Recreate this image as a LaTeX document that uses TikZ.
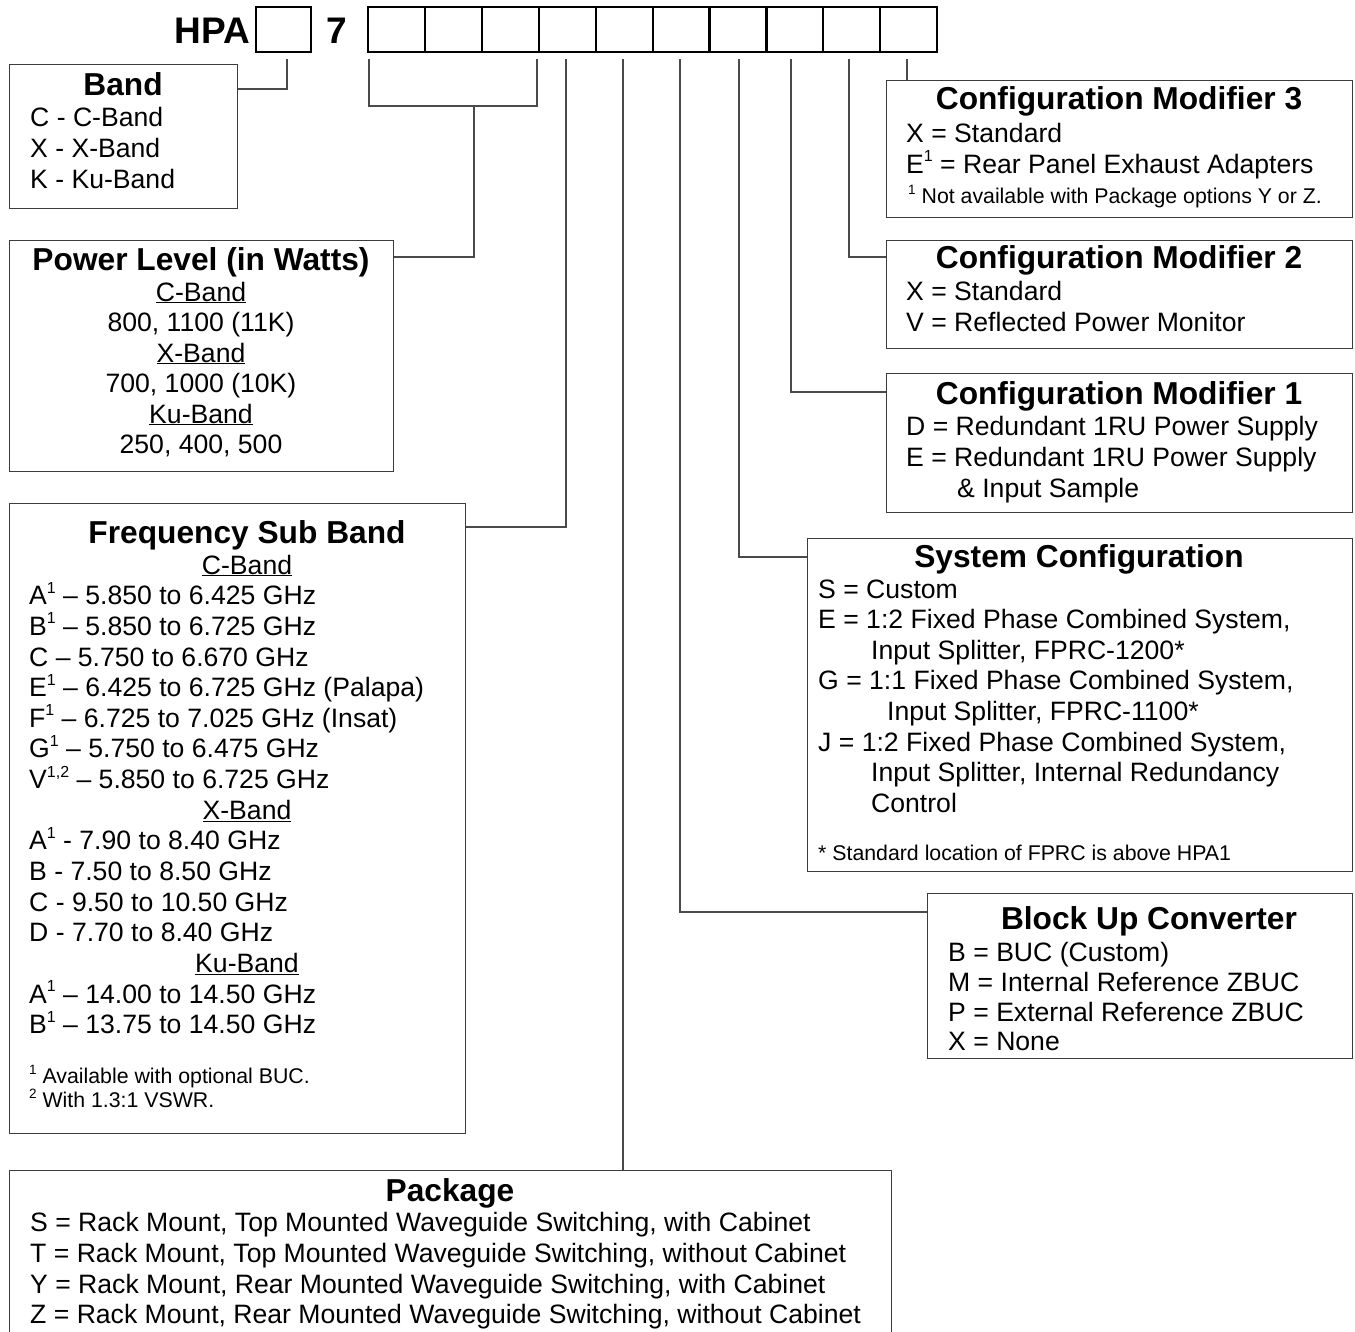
\documentclass[tikz,border=0pt]{standalone}
\usepackage{fontspec}
\setmainfont{Liberation Sans}
\usetikzlibrary{calc}
\newcommand\sps[1]{\raisebox{11.5pt}{\fontsize{16}{16}\selectfont #1}}
\newcommand\fns[1]{\raisebox{9pt}{\fontsize{13.5}{13.5}\selectfont #1}}
\definecolor{boxline}{HTML}{3C3C3C}
\definecolor{connline}{HTML}{4A4A4A}
\tikzset{
  box/.style={draw=boxline, line width=1.4pt, rectangle, inner sep=0pt, anchor=north west},
  cellbox/.style={draw=black, line width=2.2pt, rectangle, minimum width=56.9pt, minimum height=45pt, inner sep=0pt, anchor=north west},
  conn/.style={draw=connline, line width=1.4pt},
  txt/.style={anchor=base west, inner sep=0pt, font=\fontsize{26.6}{30}\selectfont},
  ctxt/.style={anchor=base, inner sep=0pt, font=\fontsize{26.6}{30}\selectfont},
  ttl/.style={anchor=base, inner sep=0pt, font=\fontsize{31.7}{34}\selectfont\bfseries},
  smalltxt/.style={anchor=base west, inner sep=0pt, font=\fontsize{21.3}{24}\selectfont},
  bigtxt/.style={inner sep=0pt, font=\fontsize{37}{40}\selectfont\bfseries},
}
\begin{document}
\begin{tikzpicture}[x=1pt,y=1pt]
\useasboundingbox (0,0) rectangle (1355,-1331);
\clip (0,0) rectangle (1355,-1331);
\fill[white] (0,0) rectangle (1355,-1331);

% ---- top code ----
\node[bigtxt, anchor=base east] (hpa) at (250,-43) {HPA};
\node[cellbox, minimum width=55pt] (c0) at (254.5,-6) {};
\node[bigtxt, anchor=base west] (seven) at (326,-43) {7};
\foreach \i in {1,...,10} {
  \node[cellbox] (c\i) at ({367+56.9*(\i-1)},-6) {};
}

% connector start points
\coordinate (t0) at (287,-59);
\coordinate (t1) at (369,-59);
\coordinate (t3) at (537,-59);
\coordinate (t4) at (566,-59);
\coordinate (t5) at (623,-59);
\coordinate (t6) at (680,-59);
\coordinate (t7) at (739,-59);
\coordinate (t8) at (791,-59);
\coordinate (t9) at (849,-59);
\coordinate (t10) at (907,-59);
\coordinate (pb) at (474,-106);

% ---- boxes ----
\node[box, minimum width=228pt, minimum height=144pt] (band) at (9,-64) {};
\node[box, minimum width=384pt, minimum height=231pt] (pow) at (9,-240) {};
\node[box, minimum width=456pt, minimum height=630pt] (freq) at (9,-503) {};
\node[box, minimum width=882pt, minimum height=190pt] (pkg) at (9,-1170) {};
\node[box, minimum width=466pt, minimum height=137pt] (cm3) at (886,-80) {};
\node[box, minimum width=466pt, minimum height=108pt] (cm2) at (886,-240) {};
\node[box, minimum width=466pt, minimum height=139pt] (cm1) at (886,-373) {};
\node[box, minimum width=545pt, minimum height=333pt] (sc) at (807,-538) {};
\node[box, minimum width=425pt, minimum height=165pt] (buc) at (927,-893) {};

% ---- connectors ----
\draw[conn] (t0) |- (band.east |- 0,-89);
\draw[conn] (t1) |- (pb) -| (t3);
\draw[conn] (pb) |- (pow.east |- 0,-257);
\draw[conn] (t4) |- (freq.east |- 0,-527);
\draw[conn] (t5) -- (pkg.north -| t5);
\draw[conn] (t6) |- (buc.west |- 0,-912);
\draw[conn] (t7) |- (sc.west |- 0,-557);
\draw[conn] (t8) |- (cm1.west |- 0,-392);
\draw[conn] (t9) |- (cm2.west |- 0,-257);
\draw[conn] (t10) -- (cm3.north -| t10);

% ---- Band ----
\node[ttl] (bandT) at (123,-95) {Band};
\node[txt] (band1) at (30,-126) {C - C-Band};
\node[txt] (band2) at (30,-157) {X - X-Band};
\node[txt] (band3) at (30,-188) {K - Ku-Band};

% ---- Power ----
\node[ttl] (powT) at (201,-270) {Power Level (in Watts)};
\node[ctxt] (pow1) at (201,-301) {\underline{C-Band}};
\node[ctxt] (pow2) at (201,-331.5) {800, 1100 (11K)};
\node[ctxt] (pow3) at (201,-362) {\underline{X-Band}};
\node[ctxt] (pow4) at (201,-392.5) {700, 1000 (10K)};
\node[ctxt] (pow5) at (201,-423) {\underline{Ku-Band}};
\node[ctxt] (pow6) at (201,-453.5) {250, 400, 500};

% ---- Frequency ----
\node[ttl] (freqT) at (247,-543) {Frequency Sub Band};
\node[ctxt] (fq0) at (247,-574) {\underline{C-Band}};
\node[txt] (fq1) at (29,-604.7) {A\sps{1} – 5.850 to 6.425 GHz};
\node[txt] (fq2) at (29,-635.3) {B\sps{1} – 5.850 to 6.725 GHz};
\node[txt] (fq3) at (29,-666) {C – 5.750 to 6.670 GHz};
\node[txt] (fq4) at (29,-696.6) {E\sps{1} – 6.425 to 6.725 GHz (Palapa)};
\node[txt] (fq5) at (29,-727.3) {F\sps{1} – 6.725 to 7.025 GHz (Insat)};
\node[txt] (fq6) at (29,-757.9) {G\sps{1} – 5.750 to 6.475 GHz};
\node[txt] (fq7) at (29,-788.6) {V\sps{1,2} – 5.850 to 6.725 GHz};
\node[ctxt] (fq8) at (247,-819.2) {\underline{X-Band}};
\node[txt] (fq9) at (29,-849.9) {A\sps{1} - 7.90 to 8.40 GHz};
\node[txt] (fq10) at (29,-880.5) {B - 7.50 to 8.50 GHz};
\node[txt] (fq11) at (29,-911.2) {C - 9.50 to 10.50 GHz};
\node[txt] (fq12) at (29,-941.8) {D - 7.70 to 8.40 GHz};
\node[ctxt] (fq13) at (247,-972.5) {\underline{Ku-Band}};
\node[txt] (fq14) at (29,-1003.1) {A\sps{1} – 14.00 to 14.50 GHz};
\node[txt] (fq15) at (29,-1033.8) {B\sps{1} – 13.75 to 14.50 GHz};
\node[smalltxt] (fqn1) at (29,-1083) {\fns{1} Available with optional BUC.};
\node[smalltxt] (fqn2) at (29,-1107) {\fns{2} With 1.3:1 VSWR.};

% ---- Package ----
\node[ttl] (pkgT) at (450,-1201) {Package};
\node[txt] (pkg1) at (30,-1231) {S = Rack Mount, Top Mounted Waveguide Switching, with Cabinet};
\node[txt] (pkg2) at (30,-1262) {T = Rack Mount, Top Mounted Waveguide Switching, without Cabinet};
\node[txt] (pkg3) at (30,-1293) {Y = Rack Mount, Rear Mounted Waveguide Switching, with Cabinet};
\node[txt] (pkg4) at (30,-1323) {Z = Rack Mount, Rear Mounted Waveguide Switching, without Cabinet};

% ---- Config Modifier 3 ----
\node[ttl] (cm3T) at (1119,-109) {Configuration Modifier 3};
\node[txt] (cm3a) at (906,-142) {X = Standard};
\node[txt] (cm3b) at (906,-173) {E\sps{1} = Rear Panel Exhaust Adapters};
\node[smalltxt] (cm3n) at (908,-203) {\fns{1} Not available with Package options Y or Z.};

% ---- Config Modifier 2 ----
\node[ttl] (cm2T) at (1119,-268) {Configuration Modifier 2};
\node[txt] (cm2a) at (906,-300) {X = Standard};
\node[txt] (cm2b) at (906,-331) {V = Reflected Power Monitor};

% ---- Config Modifier 1 ----
\node[ttl] (cm1T) at (1119,-404) {Configuration Modifier 1};
\node[txt] (cm1a) at (906,-435) {D = Redundant 1RU Power Supply};
\node[txt] (cm1b) at (906,-466) {E = Redundant 1RU Power Supply};
\node[txt] (cm1c) at (957,-497) {\& Input Sample};

% ---- System Configuration ----
\node[ttl] (scT) at (1079,-567) {System Configuration};
\node[txt] (sc1) at (818,-598) {S = Custom};
\node[txt] (sc2) at (818,-628.6) {E = 1:2 Fixed Phase Combined System,};
\node[txt] (sc3) at (871,-659.2) {Input Splitter, FPRC-1200*};
\node[txt] (sc4) at (818,-689.8) {G = 1:1 Fixed Phase Combined System,};
\node[txt] (sc5) at (887,-720.4) {Input Splitter, FPRC-1100*};
\node[txt] (sc6) at (818,-751) {J = 1:2 Fixed Phase Combined System,};
\node[txt] (sc7) at (871,-781.6) {Input Splitter, Internal Redundancy};
\node[txt] (sc8) at (871,-812.2) {Control};
\node[smalltxt] (scn) at (818,-860) {* Standard location of FPRC is above HPA1};

% ---- Block Up Converter ----
\node[ttl] (bucT) at (1149,-929) {Block Up Converter};
\node[txt] (buc1) at (948,-961) {B = BUC (Custom)};
\node[txt] (buc2) at (948,-991) {M = Internal Reference ZBUC};
\node[txt] (buc3) at (948,-1021) {P = External Reference ZBUC};
\node[txt] (buc4) at (948,-1050) {X = None};
\end{tikzpicture}
\end{document}
